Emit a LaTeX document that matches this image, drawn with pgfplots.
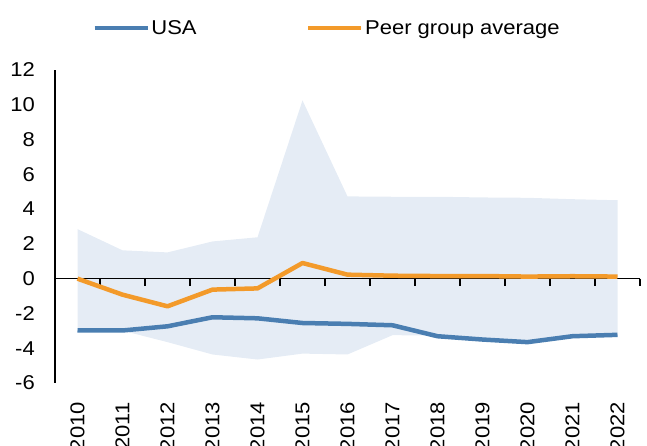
\documentclass[border=0pt]{standalone}
\usepackage{fontspec}
\setmainfont[FakeStretch=1.1]{Liberation Sans}
\usepackage{pgfplots}
\usepackage{pgfplotstable}
\pgfplotsset{compat=1.18}
\usepgfplotslibrary{fillbetween}
\definecolor{usablue}{RGB}{74,126,177}
\definecolor{peerorange}{RGB}{243,154,42}
\definecolor{bandfill}{RGB}{229,236,245}

\pgfplotstableread{
x usa peer up lo
0 -2.97 0.00 2.85 -2.97
1 -2.98 -0.92 1.63 -2.99
2 -2.74 -1.59 1.51 -3.65
3 -2.22 -0.63 2.14 -4.36
4 -2.28 -0.56 2.38 -4.65
5 -2.55 0.90 10.25 -4.31
6 -2.60 0.23 4.73 -4.36
7 -2.68 0.17 4.71 -3.25
8 -3.31 0.15 4.71 -3.27
9 -3.50 0.15 4.67 -3.50
10 -3.65 0.12 4.65 -3.65
11 -3.31 0.14 4.57 -3.31
12 -3.23 0.12 4.51 -3.23
}\data

\pgfplotstableread{
x y
-0.5 -0.4
0.5 -0.4
1.5 -0.4
2.5 -0.4
3.5 -0.4
4.5 -0.4
5.5 -0.4
6.5 -0.4
7.5 -0.4
8.5 -0.4
9.5 -0.4
10.5 -0.4
11.5 -0.4
12.5 -0.4
}\zeroticks

\begin{document}
\begin{tikzpicture}
\begin{axis}[scale only axis, width=585bp, height=313bp,
  at={(55bp,63bp)}, anchor=south west,
  xmin=-0.5, xmax=12.5, ymin=-6, ymax=12,
  font=\fontsize{20bp}{24bp}\selectfont,
  /pgf/number format/assume math mode=true,
  axis x line*=bottom, axis y line*=left,
  x axis line style={draw=none},
  y axis line style={line width=1.2bp, black, -},
  xtick={0,...,12},
  xticklabels={2010,2011,2012,2013,2014,2015,2016,2017,2018,2019,2020,2021,2022},
  ytick={-6,-4,...,12},
  major tick length=0pt,
  xticklabel style={rotate=90, anchor=east, inner sep=0pt},
  yticklabel style={anchor=east, inner sep=0pt},
  xticklabel shift=19bp, yticklabel shift=20bp,
  clip=false,
  legend style={at={(axis description cs:0.064,1.134)}, anchor=west,
    draw=none, fill=none, inner sep=0pt, outer sep=0pt,
    nodes={inner sep=1.5bp},
    /tikz/every even column/.append style={column sep=108bp}},
  legend columns=2,
  legend image code/.code={\path (0,0) -- (53bp,0);
    \draw[#1, line cap=round] (2.5bp,0) -- (50.5bp,0);}]
\addplot[name path=up, draw=none, forget plot] table[x=x,y=up]{\data};
\addplot[name path=lo, draw=none, forget plot] table[x=x,y=lo]{\data};
\addplot[bandfill, draw=none, forget plot] fill between[of=up and lo];
\addplot[black, line width=1.2bp, forget plot] coordinates {(-0.5,0) (12.5,0)};
\addplot[black, line width=1.2bp, ycomb, forget plot] table[x=x,y=y]{\zeroticks};
\addplot[usablue, line width=4.5bp, line join=round] table[x=x,y=usa]{\data};
\addlegendentry{USA}
\addplot[peerorange, line width=4.5bp, line join=round] table[x=x,y=peer]{\data};
\addlegendentry{Peer group average}
\end{axis}
\pgfresetboundingbox
\path[use as bounding box] (0bp,0bp) rectangle (647bp,446bp);
\end{tikzpicture}
\end{document}
